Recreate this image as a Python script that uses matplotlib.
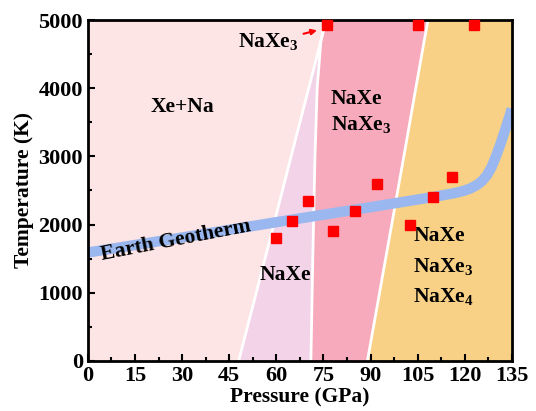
import numpy as np
import matplotlib
matplotlib.use('Agg')
import matplotlib.pyplot as plt
from matplotlib.ticker import MultipleLocator

plt.rcParams['font.family'] = 'Liberation Serif'
plt.rcParams['font.weight'] = 'bold'
plt.rcParams['axes.labelweight'] = 'bold'
plt.rcParams['mathtext.fontset'] = 'custom'
plt.rcParams['mathtext.rm'] = 'Liberation Serif:bold'
plt.rcParams['mathtext.bf'] = 'Liberation Serif:bold'
plt.rcParams['mathtext.default'] = 'bf'

# phase boundaries (pressure in GPa as a function of temperature in K)
t_limite = [0, 1500, 3000, 4000, 4700, 5000]
p_limite1 = [48.0, 56.4, 64.7, 70.3, 74.2, 75.8]
p_limite2 = [71.0, 71.6, 72.3, 73.0, 74.2, 75.8]
p_limite3 = [89.0, 94.8, 100.6, 104.4, 107.1, 108.3]

# Earth geotherm
p_geo = [0, 30, 60, 90, 110, 116, 118, 120, 122, 124, 125.5, 127, 128.5, 130, 131.5, 133, 135]
t_geo = [1590, 1810, 2035, 2255, 2405, 2455, 2475, 2500, 2535, 2585, 2640, 2720, 2840, 3010, 3200, 3410, 3700]

# simulated points
p_puntos = [60, 65, 70, 78, 85, 92, 102.5, 110, 116, 76, 105, 123]
t_puntos = [1800, 2050, 2350, 1900, 2200, 2600, 2000, 2400, 2700, 4925, 4925, 4925]

fig = plt.figure(figsize=(5.36, 4.11), dpi=100)
ax = fig.add_axes([0.164, 0.122, 0.791, 0.829])

t = np.array(t_limite)
ax.fill_betweenx(t, 0, p_limite1, color='#fde4e5', lw=0)
ax.fill_betweenx(t, p_limite1, p_limite2, color='#f3d3e8', lw=0)
ax.fill_betweenx(t, p_limite2, p_limite3, color='#f7aabb', lw=0)
ax.fill_betweenx(t, p_limite3, 135, color='#f8d186', lw=0)
for p in (p_limite1, p_limite2, p_limite3):
    ax.plot(p, t, color='white', lw=2)

ax.plot(p_geo, t_geo, color='#9ab8ef', lw=7.5, solid_capstyle='butt', solid_joinstyle='round')
ax.plot(p_puntos, t_puntos, 's', color='#ff0000', markersize=7, clip_on=False, zorder=5)

fs = 15.5
ax.text(30, 3720, 'Xe+Na', fontsize=fs, ha='center', va='center')
ax.text(77.3, 3650, 'NaXe\nNaXe$_3$', fontsize=fs, ha='left', va='center', linespacing=1.35)
ax.text(63, 1260, 'NaXe', fontsize=fs, ha='center', va='center')
ax.text(103.6, 1380, 'NaXe\nNaXe$_3$\nNaXe$_4$', fontsize=fs, ha='left', va='center', linespacing=1.6)
ax.text(57.5, 4690, 'NaXe$_3$', fontsize=fs, ha='center', va='center')
ax.annotate('', xy=(73.8, 4860), xytext=(67.8, 4790),
            arrowprops=dict(arrowstyle='-|>', color='#ff0000', lw=1.5, mutation_scale=8))
ax.text(28, 1770, 'Earth Geotherm', fontsize=fs, ha='center', va='center', rotation=11)

ax.set_xlim(0, 135)
ax.set_ylim(0, 5000)
ax.xaxis.set_major_locator(MultipleLocator(15))
ax.xaxis.set_minor_locator(MultipleLocator(7.5))
ax.yaxis.set_major_locator(MultipleLocator(1000))
ax.yaxis.set_minor_locator(MultipleLocator(500))
ax.tick_params(which='both', direction='in', width=1.5, labelsize=16)
ax.tick_params(which='major', length=5)
ax.tick_params(which='minor', length=3)
for s in ax.spines.values():
    s.set_linewidth(2)

ax.set_xlabel('Pressure (GPa)', fontsize=15.5, labelpad=1)
ax.set_ylabel('Temperature (K)', fontsize=15.5, labelpad=3)

plt.savefig('out.png', dpi=100)
